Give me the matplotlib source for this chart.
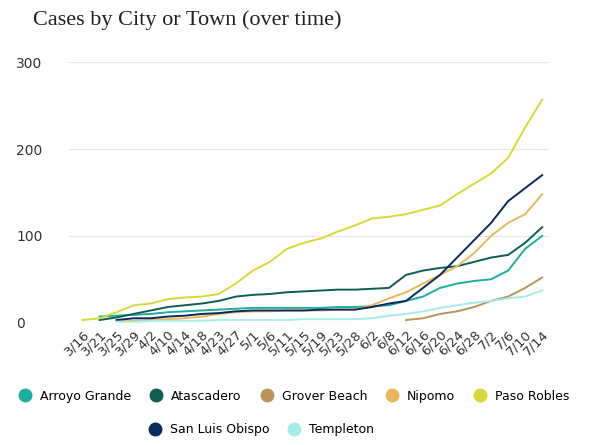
import numpy as np
import matplotlib.pyplot as plt
from matplotlib.lines import Line2D

nan = np.nan
dates = ["3/16", "3/21", "3/25", "3/29", "4/2", "4/10", "4/14", "4/18", "4/23", "4/27",
         "5/1", "5/6", "5/11", "5/15", "5/19", "5/23", "5/28", "6/2", "6/8", "6/12",
         "6/16", "6/20", "6/24", "6/28", "7/2", "7/6", "7/10", "7/14"]

arroyo = [nan, 7, 8, 9, 10, 12, 13, 14, 15, 16, 17, 17, 17, 17, 17, 18, 18, 19, 20, 25,
          30, 40, 45, 48, 50, 60, 85, 100]
atascadero = [nan, 3, 6, 10, 14, 18, 20, 22, 25, 30, 32, 33, 35, 36, 37, 38, 38, 39, 40, 55,
              60, 63, 65, 70, 75, 78, 92, 110]
grover = [nan] * 19 + [3, 5, 10, 13, 18, 25, 30, 40, 52]
nipomo = [nan, nan, 2, 2, 3, 4, 5, 7, 10, 12, 13, 13, 14, 14, 14, 15, 15, 20, 28, 35,
          45, 55, 65, 80, 100, 115, 125, 148]
paso = [3, 5, 12, 20, 22, 27, 29, 30, 33, 45, 60, 70, 85, 92, 97, 105, 112, 120, 122, 125,
        130, 135, 148, 160, 172, 190, 225, 257]
slo = [nan, nan, 3, 5, 5, 7, 8, 10, 11, 13, 14, 14, 14, 14, 15, 15, 15, 18, 22, 25,
       40, 55, 75, 95, 115, 140, 155, 170]
templeton = [nan, nan, 1, 1, 2, 2, 2, 2, 3, 3, 3, 3, 3, 4, 4, 4, 4, 5, 8, 10,
             13, 17, 20, 23, 25, 28, 30, 37]

series = [("Arroyo Grande", arroyo, "#1fada0"),
          ("Atascadero", atascadero, "#0f5e52"),
          ("Grover Beach", grover, "#b8955a"),
          ("Nipomo", nipomo, "#e8b85c"),
          ("Paso Robles", paso, "#d9d83a"),
          ("San Luis Obispo", slo, "#0b2a5c"),
          ("Templeton", templeton, "#a8ecea")]

fig = plt.figure(figsize=(6.0, 4.45), dpi=100)
ax = fig.add_axes([0.115, 0.275, 0.80, 0.585])
x = np.arange(len(dates))
for name, vals, c in series:
    ax.plot(x, vals, color=c, lw=1.4)

ax.set_ylim(0, 300)
ax.set_yticks([0, 100, 200, 300])
ax.set_xlim(-0.8, len(dates) - 0.6)
ax.grid(axis="y", color="#e6e6e6", lw=0.8)
ax.set_axisbelow(True)
for s in ax.spines.values():
    s.set_visible(False)
ax.tick_params(axis="y", length=0, labelsize=10, colors="#333333")
ax.tick_params(axis="x", length=0, labelsize=9.5, colors="#333333")
ax.set_xticks(x)
ax.set_xticklabels(dates, rotation=45, ha="right", rotation_mode="anchor")
for lbl in ax.get_yticklabels():
    lbl.set_horizontalalignment("left")
    lbl.set_x(-0.1)

fig.text(0.055, 0.955, "Cases by City or Town (over time)", family="Liberation Serif",
         fontsize=16, color="#222222", va="center")

h = [Line2D([], [], marker="o", ls="none", color=c, markersize=9) for _, _, c in series]
l = [n for n, _, _ in series]
fig.legend(h[:5], l[:5], loc="center", bbox_to_anchor=(0.485, 0.11), ncol=5, frameon=False,
           fontsize=9, handletextpad=0.2, columnspacing=1.0)
fig.legend(h[5:], l[5:], loc="center", bbox_to_anchor=(0.43, 0.035), ncol=2, frameon=False,
           fontsize=9, handletextpad=0.2, columnspacing=1.0)

fig.savefig("out.png", dpi=100)
